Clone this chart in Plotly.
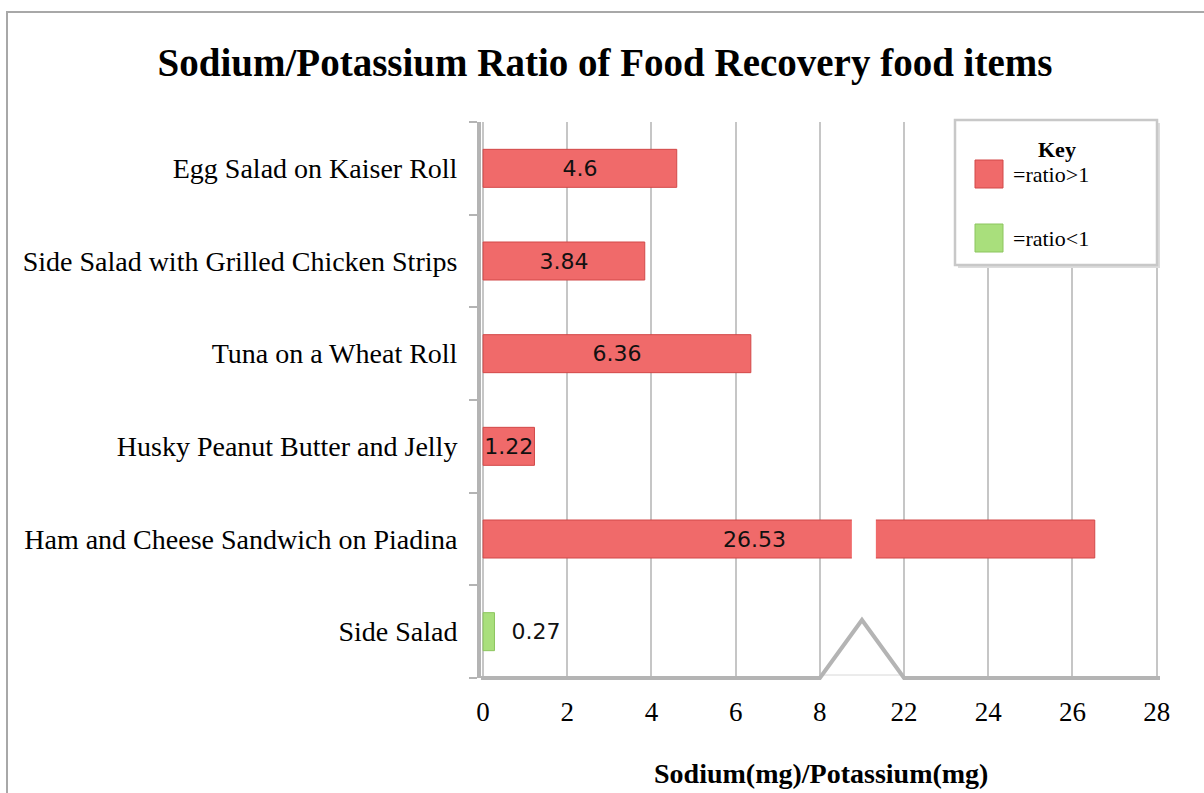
import plotly.graph_objects as go

# ---------------- data ----------------
CATEGORIES = [
    "Egg Salad on Kaiser Roll",
    "Side Salad with Grilled Chicken Strips",
    "Tuna on a Wheat Roll",
    "Husky Peanut Butter and Jelly",
    "Ham and Cheese Sandwich on Piadina",
    "Side Salad",
]
RATIOS = [4.6, 3.84, 6.36, 1.22, 26.53, 0.27]
TICK_VALUES = [0, 2, 4, 6, 8, 22, 24, 26, 28]
TICK_LABELS = ["0", "2", "4", "6", "8", "22", "24", "26", "28"]
LEGEND_ITEMS = ["=ratio>1", "=ratio<1"]

# broken axis: values between 8 and 20 are cut out
BREAK_LO, BREAK_HI = 8, 20


def to_pos(v):
    return v if v <= BREAK_LO else v - (BREAK_HI - BREAK_LO)


W, H = 1204, 793
ML, MR, MT, MB = 481, 44, 122, 115
PW, PH = W - ML - MR, H - MT - MB


def px(p):
    return (p - ML) / PW


def py(p):
    return (H - MB - p) / PH


SERIF = "Liberation Serif, Times New Roman, serif"
SANS = "DejaVu Sans, Verdana, sans-serif"
RED = "#f06a6a"
RED_LINE = "#d24848"
GREEN = "#a9df7c"
GREEN_LINE = "#8cc55e"
GRID = "#c6c6c6"
AXIS = "#b4b4b4"

# reverse so the first category is at top
cats = CATEGORIES[::-1]
vals = RATIOS[::-1]
pos = [to_pos(v) for v in vals]
colors = [RED if v > 1 else GREEN for v in vals]
lcolors = [RED_LINE if v > 1 else GREEN_LINE for v in vals]
broken = [v > BREAK_HI for v in vals]
texts = ["" if b else (f"{v:g}" if v > 1 else "\u00a0\u00a0" + f"{v:g}") for v, b in zip(vals, broken)]
tpos = ["inside" if v > 1 else "outside" for v in vals]

fig = go.Figure()
fig.add_trace(go.Bar(
    y=cats, x=pos, orientation="h",
    marker=dict(color=colors, line=dict(color=lcolors, width=1)),
    text=texts, textposition=tpos, insidetextanchor="middle",
    constraintext="none", cliponaxis=False,
    textfont=dict(family=SANS, size=22, color="#111111"),
    hoverinfo="skip", showlegend=False,
))

shapes = []
annotations = []

# gap in broken bar + its label
for i, (v, b) in enumerate(zip(vals, broken)):
    if b:
        shapes.append(dict(type="rect", xref="x", yref="y",
                           x0=8.76, x1=9.33, y0=i - 0.3, y1=i + 0.3,
                           fillcolor="white", line=dict(width=0), layer="above"))
        annotations.append(dict(x=6.45, y=cats[i], xref="x", yref="y",
                                text=f"{v:g}", showarrow=False,
                                font=dict(family=SANS, size=22, color="#111111")))

# x axis line with break symbol
bx0, bx1 = to_pos(BREAK_LO), to_pos(22)
peak = py(620)
xr = [-0.05, 16.08]
shapes.append(dict(type="line", xref="x", yref="paper", x0=bx0, x1=bx1, y0=py(675), y1=py(675),
                   line=dict(color="#d8d8d8", width=1), layer="above"))
shapes.append(dict(type="path", xref="x", yref="paper",
                   path=f"M {xr[0]},0 L {bx0},0 L {(bx0+bx1)/2},{peak} L {bx1},0 L {xr[1]},0",
                   line=dict(color=AXIS, width=4), layer="above"))

# legend box
shapes.append(dict(type="rect", xref="paper", yref="paper",
                   x0=px(958), x1=px(1160), y0=py(268), y1=py(123),
                   fillcolor="#dddddd", line=dict(width=0), layer="above"))
shapes.append(dict(type="rect", xref="paper", yref="paper",
                   x0=px(955), x1=px(1157), y0=py(265), y1=py(120),
                   fillcolor="white", line=dict(color="#c8c8c8", width=2.5), layer="above"))
annotations.append(dict(x=px(1057), y=py(149), xref="paper", yref="paper", text="<b>Key</b>",
                        xanchor="center", yanchor="middle",
                        showarrow=False, font=dict(family=SERIF, size=22, color="black")))
for k, (label, c, lc, yc) in enumerate(zip(LEGEND_ITEMS, [RED, GREEN], [RED_LINE, GREEN_LINE], [174, 238])):
    shapes.append(dict(type="rect", xref="paper", yref="paper",
                       x0=px(975), x1=px(1003), y0=py(yc + 14), y1=py(yc - 14),
                       fillcolor=c, line=dict(color=lc, width=1), layer="above"))
    annotations.append(dict(x=px(1011), y=py(yc), xref="paper", yref="paper", text=label,
                            xanchor="left", yanchor="middle", showarrow=False,
                            font=dict(family=SERIF, size=22, color="black")))

# outer frame
shapes.append(dict(type="rect", xref="paper", yref="paper",
                   x0=px(7), x1=px(1215), y0=py(805), y1=py(12),
                   line=dict(color="#a8a8a8", width=2), fillcolor="rgba(0,0,0,0)", layer="above"))

# x axis title
annotations.append(dict(x=0.5, y=py(773), xref="paper", yref="paper",
                        xanchor="center", yanchor="middle",
                        text="<b>Sodium(mg)/Potassium(mg)</b>", showarrow=False,
                        font=dict(family=SERIF, size=28, color="black")))

fig.update_layout(
    width=W, height=H,
    margin=dict(l=ML, r=MR, t=MT, b=MB, autoexpand=False),
    paper_bgcolor="white", plot_bgcolor="white",
    title=dict(text="<b>Sodium/Potassium Ratio of Food Recovery food items</b>",
               x=605 / W, xanchor="center", y=1 - 62 / H, yanchor="middle",
               font=dict(family=SERIF, size=39, color="black")),
    bargap=0.59,
    shapes=shapes, annotations=annotations,
    xaxis=dict(range=xr, tickvals=[to_pos(t) for t in TICK_VALUES], ticktext=TICK_LABELS,
               showgrid=True, gridcolor=GRID, gridwidth=2, zeroline=False,
               showline=False, ticks="", ticklabelstandoff=15,
               tickfont=dict(family=SERIF, size=27, color="black"), fixedrange=True),
    yaxis=dict(categoryorder="array", categoryarray=cats,
               showline=True, linecolor=AXIS, linewidth=4,
               ticks="outside", tickson="boundaries", ticklen=8, tickcolor=AXIS, tickwidth=2,
               ticklabelstandoff=14, showgrid=False, zeroline=False,
               tickfont=dict(family=SERIF, size=28, color="black"), fixedrange=True),
)

fig.write_html("out.html", config={"displayModeBar": False},
               post_script="document.body.style.margin='0';")
